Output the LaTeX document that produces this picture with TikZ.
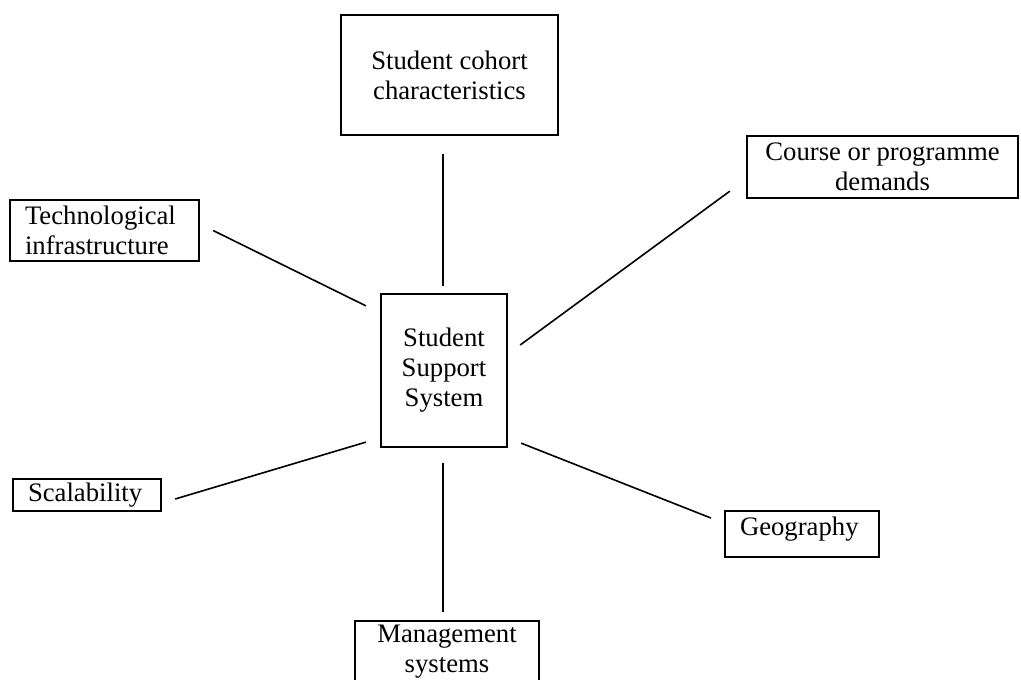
\documentclass[tikz,border=0pt]{standalone}
\usepackage{fontspec}
\setmainfont{Liberation Serif}
\usetikzlibrary{calc}
\begin{document}
\begin{tikzpicture}[x=1pt,y=-1pt,
  box/.style={draw, line width=2.3pt, inner sep=0pt, font=\fontsize{26.7}{30}\selectfont},
  cbox/.style={box, align=center},
  lbox/.style={box, align=left, inner xsep=15pt},
  link/.style={line width=1.6pt}]
\fill[white] (0,0) rectangle (1021,680);
\useasboundingbox (0,0) rectangle (1021,680);

\node[cbox, minimum width=217pt, minimum height=120pt] (coh) at (449.5,75) {Student cohort\\characteristics};
\node[cbox, minimum width=271pt, minimum height=62pt] (course) at (882.5,167) {Course or programme\\demands};
\node[lbox, text width=159pt, minimum width=189pt, minimum height=61pt] (tech) at (104.5,230.5) {Technological\\infrastructure};
\node[cbox, minimum width=126pt, minimum height=153pt] (sss) at (444,370.5) {Student\\Support\\System};
\node[lbox, text width=118pt, minimum width=148pt, minimum height=32pt] (scal) at (87,495) {Scalability};
\node[lbox, text width=124pt, minimum width=154pt, minimum height=46pt, text depth=15.8pt] (geo) at (802,534) {Geography};
\node[cbox, minimum width=184pt, minimum height=62pt] (mgmt) at (447,652) {Management\\systems};

\draw[link] ([xshift=-6.5pt,yshift=-18pt]coh.south) -- ([xshift=-1pt,yshift=7pt]sss.north);
\draw[link] ([xshift=13pt]tech.east) -- ([xshift=-14pt,yshift=-13pt]sss.north west);
\draw[link] ([xshift=-16pt,yshift=8pt]course.south west) -- ([xshift=12pt,yshift=25.5pt]sss.east);
\draw[link] ([xshift=13pt,yshift=-4pt]scal.east) -- ([xshift=-14pt,yshift=6pt]sss.south west);
\draw[link] ([xshift=13pt,yshift=5pt]sss.south east) -- ([xshift=-13pt,yshift=16pt]geo.west);
\draw[link] ([xshift=-1pt,yshift=-15pt]sss.south) -- ([xshift=-4pt,yshift=8pt]mgmt.north);
\end{tikzpicture}
\end{document}
